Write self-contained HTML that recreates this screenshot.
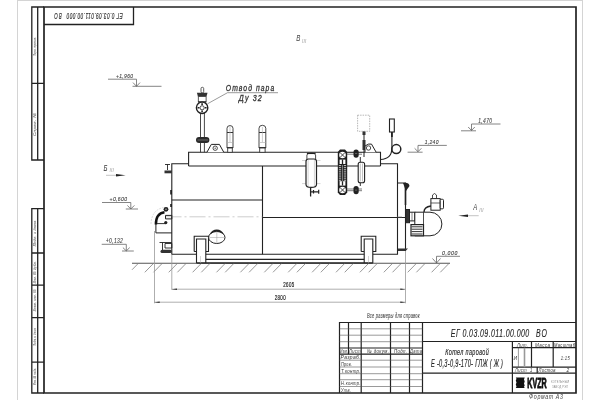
<!DOCTYPE html>
<html><head><meta charset="utf-8">
<style>
html,body{margin:0;padding:0;background:#fff;width:600px;height:400px;overflow:hidden}
svg{display:block;will-change:transform}
text{font-family:"Liberation Sans",sans-serif;font-style:italic}
</style></head><body>
<svg width="600" height="400" viewBox="0 0 600 400">
<rect width="600" height="400" fill="#fff"/>
<g stroke="#d4d4d4" stroke-width="1" fill="none">
<line x1="17.5" y1="0" x2="17.5" y2="400"/>
<line x1="582.5" y1="0" x2="582.5" y2="400"/>
<line x1="17.5" y1="0.5" x2="582.5" y2="0.5"/>
</g>
<g stroke="#222" stroke-width="1.3" fill="none">
<path d="M44 7 H576 V393 H44 Z" stroke-width="1.7"/>
<path d="M44 24.5 H133.5 V7"/>
<path d="M44 7 H31.8 V160 H44 M37.7 7 V160 M31.8 83.4 H44"/>
<path d="M44 208.6 H31.8 V393 H44 M37.7 208.6 V393 M31.8 253 H44 M31.8 285.2 H44 M31.8 317.6 H44 M31.8 362.2 H44"/>
</g>

<text transform="translate(122.80 12.50) rotate(180) scale(0.566 1)" font-size="8.4" fill="#333" textLength="99.16" lengthAdjust="spacing" stroke="#333" stroke-width="0.2">ЕГ 0.03.09.011.00.000</text>
<text transform="translate(61.70 12.50) rotate(180) scale(0.533 1)" font-size="8.4" fill="#333" textLength="14.06" lengthAdjust="spacing" stroke="#333" stroke-width="0.2">ВО</text>
<text transform="translate(36.00 56.00) rotate(-90) scale(0.585 1)" font-size="4.4" fill="#777" textLength="32.50" lengthAdjust="spacing" stroke="#888" stroke-width="0.12">Перв. примен.</text>
<text transform="translate(36.00 136.00) rotate(-90) scale(1.000 1)" font-size="4.4" fill="#777" textLength="23.00" lengthAdjust="spacing" stroke="#888" stroke-width="0.12">Справ. №</text>
<text transform="translate(36.00 246.30) rotate(-90) scale(0.840 1)" font-size="4.4" fill="#777" textLength="30.61" lengthAdjust="spacing" stroke="#888" stroke-width="0.12">Подп. и дата</text>
<text transform="translate(36.00 283.30) rotate(-90) scale(0.728 1)" font-size="4.4" fill="#777" textLength="30.07" lengthAdjust="spacing" stroke="#888" stroke-width="0.12">Инв. № дубл.</text>
<text transform="translate(36.00 311.30) rotate(-90) scale(0.724 1)" font-size="4.4" fill="#777" textLength="30.24" lengthAdjust="spacing" stroke="#888" stroke-width="0.12">Взам. инв. №</text>
<text transform="translate(36.00 346.00) rotate(-90) scale(0.588 1)" font-size="4.4" fill="#777" textLength="30.61" lengthAdjust="spacing" stroke="#888" stroke-width="0.12">Подп. и дата</text>
<text transform="translate(36.00 385.00) rotate(-90) scale(0.560 1)" font-size="4.4" fill="#777" textLength="30.34" lengthAdjust="spacing" stroke="#888" stroke-width="0.12">Инв. № подл.</text>
<g stroke="#666" stroke-width="0.8" fill="none">
<path d="M108 79.2 H136.5 V86.3 M133 82.6 L136.5 86.3 L140 82.6 M132.5 86.3 H161.5"/>
<path d="M102 202.5 H130.8 V209 M127.4 205.4 L130.8 209 L134.4 205.4 M125.8 209 H138"/>
<path d="M101.7 244.3 H126.3 V250.9 M122.9 247.6 L126.3 250.9 L129.7 247.6 M122 251 H133.8"/>
<path d="M446.8 145.4 H418 V151.7 M414.6 148.3 L418 151.7 L421.4 148.3 M407.6 152.2 H422.6"/>
<path d="M500.5 124 H471.5 V130.5 M468.2 127 L471.5 130.5 L474.8 127 M461 130.8 H476"/>
<path d="M460 256.3 H436.5 V263 M432.5 258.5 L436.5 263 L440.5 258.5"/>
</g>

<text transform="translate(116.00 78.00) scale(0.793 1)" font-size="6.25" fill="#444" textLength="21.43" lengthAdjust="spacing" stroke="#444" stroke-width="0.12">+1,960</text>
<text transform="translate(109.60 200.80) scale(0.891 1)" font-size="5.69444" fill="#444" textLength="19.53" lengthAdjust="spacing" stroke="#444" stroke-width="0.12">+0,600</text>
<text transform="translate(105.80 243.00) scale(0.780 1)" font-size="6.38889" fill="#444" textLength="21.91" lengthAdjust="spacing" stroke="#444" stroke-width="0.12">+0,132</text>
<text transform="translate(424.70 143.80) scale(0.845 1)" font-size="5.83333" fill="#444" textLength="16.22" lengthAdjust="spacing" stroke="#444" stroke-width="0.12">1,240</text>
<text transform="translate(478.20 123.00) scale(0.715 1)" font-size="6.94444" fill="#444" textLength="19.31" lengthAdjust="spacing" stroke="#444" stroke-width="0.12">1,470</text>
<text transform="translate(442.00 255.00) scale(1.000 1)" font-size="5.13889" fill="#444" textLength="15.30" lengthAdjust="spacing" stroke="#444" stroke-width="0.12">0,000</text>
<text transform="translate(103.60 170.90) scale(0.634 1)" font-size="9.6" fill="#333" textLength="6.94" lengthAdjust="spacing">Б</text>
<text transform="translate(109.50 171.80) scale(0.950 1)" font-size="5" fill="#999" textLength="4.63" lengthAdjust="spacing">III</text>
<path d="M106 175.3 H117" stroke="#aaa" stroke-width="0.7"/><path d="M125.6 175.3 L116 174 V176.6 Z" fill="#222"/>
<text transform="translate(296.20 40.80) scale(0.675 1)" font-size="9.2" fill="#444" textLength="6.82" lengthAdjust="spacing">В</text>
<text transform="translate(302.00 43.00) scale(0.907 1)" font-size="5" fill="#999" textLength="4.63" lengthAdjust="spacing">III</text>
<text transform="translate(473.30 209.70) scale(0.707 1)" font-size="8.4" fill="#333" textLength="6.23" lengthAdjust="spacing">А</text>
<text transform="translate(479.30 211.70) scale(0.907 1)" font-size="5" fill="#999" textLength="4.63" lengthAdjust="spacing">III</text>
<path d="M468 215.7 H478.7" stroke="#aaa" stroke-width="0.7"/><path d="M458.3 215.7 L468 214.4 V217 Z" fill="#222"/>
<path d="M132 263.3 H450" stroke="#555" stroke-width="1.1"/><path d="M196.5 262.9 H372.8" stroke="#2a2a2a" stroke-width="1.5"/>
<path stroke="#777" stroke-width="0.75" d="M138.1 263.6 L132.0 269.8 M153.3 263.6 L144.8 272.3 M162.0 263.6 L153.5 272.3 M177.2 263.6 L168.7 272.3 M185.9 263.6 L177.4 272.3 M201.1 263.6 L192.6 272.3 M209.8 263.6 L201.3 272.3 M225.0 263.6 L216.5 272.3 M233.7 263.6 L225.2 272.3 M248.9 263.6 L240.4 272.3 M257.6 263.6 L249.1 272.3 M272.8 263.6 L264.3 272.3 M281.5 263.6 L273.0 272.3 M296.7 263.6 L288.2 272.3 M305.4 263.6 L296.9 272.3 M320.6 263.6 L312.1 272.3 M329.3 263.6 L320.8 272.3 M344.5 263.6 L336.0 272.3 M353.2 263.6 L344.7 272.3 M368.4 263.6 L359.9 272.3 M377.1 263.6 L368.6 272.3 M392.3 263.6 L383.8 272.3 M401.0 263.6 L392.5 272.3 M416.2 263.6 L407.7 272.3 M424.9 263.6 L416.4 272.3 M440.1 263.6 L431.6 272.3 M448.8 263.6 L440.3 272.3"/>
<g stroke="#999" stroke-width="0.8" fill="none">
<path d="M154.5 231 V303.3 M171.8 254 V289.8 M405.5 251 V303.3"/>
<path d="M171.8 289.2 H405.5 M154.5 302.2 H405.5"/>
</g>
<path fill="#333" d="M171.8 289.2 l5.2 -0.8 v1.6z M405.5 289.2 l-5.2 -0.8 v1.6z M154.5 302.2 l5.2 -0.8 v1.6z M405.5 302.2 l-5.2 -0.8 v1.6z"/>

<text transform="translate(283.30 287.00) scale(0.604 1)" font-size="7.3" fill="#222" textLength="18.04" lengthAdjust="spacing" style="font-style:normal" stroke="#222" stroke-width="0.2">2605</text>
<text transform="translate(274.70 300.20) scale(0.604 1)" font-size="7.3" fill="#222" textLength="18.04" lengthAdjust="spacing" style="font-style:normal" stroke="#222" stroke-width="0.2">2800</text>
<text transform="translate(367.00 318.30) scale(0.608 1)" font-size="6.5" fill="#444" textLength="86.50" lengthAdjust="spacing" stroke="#444" stroke-width="0.1">Все размеры для справок</text>
<!-- ===== boiler body ===== -->
<g stroke="#222" stroke-width="1.1" fill="none">
<path d="M171.8 254.3 V163.8 H188.6 M188.6 166 H380.5 M380.5 163.8 H397.5 V254.3 H372.8 M364.2 254.3 H205.8 M196.5 254.3 H171.8"/>
<path d="M188.6 166 V152.2 H380.5 V166"/>
<path d="M262.5 166 V254.3 M171.8 200 H262.5 M262.5 217.5 H406"/>
<path d="M397.5 183 H405.5 V251"/>
<!-- supports -->
<path d="M194.2 251.5 V236.2 H208.5 V251.5 H205.8 M196.5 251.5 H194.2 M196.5 263 V239 H205.8 V263"/>
<path d="M361.2 251.5 V236.2 H375.8 V251.5 H372.8 M364.2 251.5 H361.2 M364.2 263 V239 H372.8 V263"/>
<path d="M205.8 259.4 H364.2"/>
</g>
<path d="M200.5 256 V263 M368.5 256 V263" stroke="#aaa" stroke-width="0.5"/>
<path d="M405.5 183 V205" stroke="#222" stroke-width="1.6"/>
<path d="M403 183 Q409 182 409.5 186 L406 191 Z" fill="#222"/>
<path d="M398 248.5 H408 L405.5 251 H398 Z" fill="#333"/>
<path d="M165.5 216.8 H262.5" stroke="#aaa" stroke-width="0.6" stroke-dasharray="16 3 2 3"/>
<path d="M397.5 216.8 H402" stroke="#999" stroke-width="0.6"/>

<!-- manhole -->
<ellipse cx="216.8" cy="237.5" rx="8.2" ry="6" fill="#fff" stroke="#222" stroke-width="1"/>
<path d="M209.5 234.5 Q212 229.5 216.8 229.5 Q221.6 229.5 224 234.5 Q220 231.5 216.8 231.5 Q213.6 231.5 209.5 234.5 Z" fill="#222"/>
<path d="M209 237.5 H225 M216.8 231.5 V243.5" stroke="#999" stroke-width="0.5"/>

<!-- left door & fittings -->
<path d="M151 224 Q151.5 210 163.5 207.5" stroke="#bbb" stroke-width="0.5" fill="none" stroke-dasharray="2 1"/>
<g stroke="#222" stroke-width="1" fill="none">
<path d="M155.9 224 V232.9 H171.8"/>
<path d="M165.5 215.4 H171.8 V218.9 H165.5 Z"/>
</g>
<path d="M155.9 224.5 Q155.9 213.2 164.5 212.2" stroke="#111" stroke-width="2.5" fill="none"/>
<path d="M157 223.6 H166" stroke="#333" stroke-width="1"/>
<circle cx="165.8" cy="222.6" r="1.6" fill="#222"/>
<circle cx="166" cy="209.3" r="2.4" fill="#222"/>
<circle cx="166" cy="209.3" r="0.8" fill="#aaa"/>
<g stroke="#222" stroke-width="0.9" fill="none">
<path d="M165 164.5 H170 M167.5 164.5 V170"/>
</g>
<path d="M164.5 170.5 H171.8 V173.3 H164.5 Z" fill="#333"/>
<path d="M171 190 V194.5 M171 204 V207" stroke="#111" stroke-width="1.5"/>
<g stroke="#222" stroke-width="0.9" fill="none">
<path d="M159.5 242.5 H171.8 M162.5 242.5 V252 M165 243.5 H171.8 V248 H165 Z"/>
</g>
<rect x="160.5" y="249.8" width="11.3" height="3.3" rx="1.6" fill="#333"/>

<!-- steam outlet -->
<rect x="201" y="87.3" width="2.7" height="5.6" rx="1.3" fill="#fff" stroke="#333" stroke-width="0.8"/>
<path d="M196.9 92.8 H207.5 L206.5 96.6 H197.9 Z" fill="#333"/>
<rect x="198.3" y="96.6" width="7.8" height="5.4" fill="#fff" stroke="#333" stroke-width="0.8"/>
<path d="M198.3 102 H206.1" stroke="#222" stroke-width="1.3"/>
<path d="M200.5 113 V152.3 M204.4 113 V152.3" stroke="#333" stroke-width="0.9"/>
<circle cx="202.1" cy="107.8" r="5.7" fill="#fff" stroke="#222" stroke-width="1.4"/>
<circle cx="202.1" cy="107.8" r="2.1" fill="none" stroke="#333" stroke-width="0.9"/>
<path d="M197.6 107.8 H199.4 M204.8 107.8 H206.6 M202.1 103.3 V105 M202.1 110.6 V112.3" stroke="#222" stroke-width="1.6"/>
<rect x="196" y="136.9" width="13.4" height="6.2" rx="3" fill="#2a2a2a"/>
<path d="M197.5 140 H208" stroke="#999" stroke-width="0.6"/>
<path d="M206.9 152.3 L211.3 144.4 H219.4 L223.8 152.3" stroke="#222" stroke-width="1" fill="#fff"/>
<circle cx="215.2" cy="148.2" r="2.2" stroke="#222" stroke-width="0.8" fill="none"/>
<circle cx="215.2" cy="148.2" r="0.7" fill="#555"/>
<!-- safety valves -->
<g fill="#fff" stroke="#333" stroke-width="0.9">
<path d="M227 148 V128.3 Q227 125.6 230 125.6 Q233 125.6 233 128.3 V148 Z"/>
<rect x="227.7" y="148" width="4.6" height="4.3"/>
<path d="M259 148 V128.3 Q259 125.3 262.4 125.3 Q265.8 125.3 265.8 128.3 V148 Z"/>
<rect x="259.7" y="148" width="5.4" height="4.3"/>
</g>
<path d="M227 132.5 H233 M259 132.5 H265.8 M227 147.5 H233 M259 147.5 H265.8" stroke="#333" stroke-width="1"/>
<path d="M227 142.5 H233 M259 142.5 H265.8 M230 127 V142 M262.4 127 V142" stroke="#aaa" stroke-width="0.6"/>

<!-- leader text -->
<path d="M207.5 103.8 L227.5 92.7 H278" stroke="#555" stroke-width="0.6" fill="none"/>

<!-- separator capsule -->
<path d="M302 160.5 H320.5 M302 183.6 H320.5" stroke="#aaa" stroke-width="0.5"/>
<path d="M306.9 159 V155 Q306.9 153.2 311.2 153.2 Q315.6 153.2 315.6 155 V159" fill="#fff" stroke="#333" stroke-width="0.9"/>
<path d="M306.9 153.4 H315.6" stroke="#222" stroke-width="1.3"/>
<path d="M306 161.5 Q306 159 308.5 159 H314 Q316.5 159 316.5 161.5 V184.5 Q316.5 187.4 311.2 187.4 Q306 187.4 306 184.5 Z" fill="#fff" stroke="#222" stroke-width="1.2"/>
<path d="M308.1 160 V186 M314.4 160 V186" stroke="#aaa" stroke-width="0.5"/>
<path d="M310.6 188 V196.5" stroke="#222" stroke-width="1.3"/>
<path d="M311 191.8 H319 M318.7 189.8 V193.8 M313.5 190 V193.5" stroke="#222" stroke-width="1.2"/>

<!-- water level gauge -->
<path d="M340 149.6 H345 L347.2 152 V192.6 L345 195 H340 L337.8 192.6 V152 Z" fill="#1e1e1e"/>
<circle cx="342.5" cy="155" r="3.3" fill="#fff"/>
<path d="M340 152.5 L345 157.5 M345 152.5 L340 157.5" stroke="#333" stroke-width="0.9"/>
<rect x="339.6" y="159.6" width="5.8" height="4.4" fill="#fff"/>
<rect x="339.6" y="181.2" width="5.8" height="4.4" fill="#fff"/>
<path d="M342.5 159.6 V164 M342.5 181.2 V185.6" stroke="#222" stroke-width="1.3"/>
<circle cx="342.5" cy="190" r="3.3" fill="#fff"/>
<path d="M340 187.5 L345 192.5 M345 187.5 L340 192.5" stroke="#333" stroke-width="0.9"/>
<path d="M338.9 165.5 H341.2 M343.8 165.5 H346.1 M338.9 167.4 H341.2 M343.8 167.4 H346.1 M338.9 169.3 H341.2 M343.8 169.3 H346.1 M338.9 171.2 H341.2 M343.8 171.2 H346.1 M338.9 173.1 H341.2 M343.8 173.1 H346.1 M338.9 175.0 H341.2 M343.8 175.0 H346.1 M338.9 176.9 H341.2 M343.8 176.9 H346.1 M338.9 178.8 H341.2 M343.8 178.8 H346.1 M338.9 180.7 H341.2 M343.8 180.7 H346.1" stroke="#ddd" stroke-width="0.8"/>
<path d="M342.5 165 V181" stroke="#bbb" stroke-width="0.6"/>
<path d="M347 152.5 H362 M347 154.2 H362 M347 189 H362 M347 190.7 H362" stroke="#444" stroke-width="0.7"/>
<rect x="353.5" y="149.5" width="5.2" height="8.2" rx="2.6" fill="#222"/>
<rect x="353.5" y="186" width="5.2" height="8.2" rx="2.6" fill="#222"/>
<path d="M355 153.5 H357.2 M355 190.1 H357.2" stroke="#888" stroke-width="0.6"/>
<path d="M360.3 157 V186" stroke="#333" stroke-width="1"/>
<rect x="358.2" y="162.2" width="6.4" height="20.6" rx="2" fill="#fff" stroke="#222" stroke-width="1.1"/>
<path d="M360.3 163.5 V181.5 M362.5 163.5 V181.5" stroke="#999" stroke-width="0.6"/>
<path d="M364 131.3 V157" stroke="#222" stroke-width="1"/>
<path d="M362.5 131.5 H365.5 V135 H362.5 Z M362.5 140 H365.5 V150 H362.5 Z" fill="#333"/>

<!-- sensor dashed box -->
<rect x="357.6" y="115.2" width="12.1" height="16.1" fill="none" stroke="#888" stroke-width="0.6" stroke-dasharray="1.5 1"/>
<path d="M365 152.3 V146 L368.5 144.1 H371.5 L376.2 152.3" stroke="#222" stroke-width="1" fill="#fff"/>
<circle cx="368.5" cy="148" r="2.2" stroke="#222" stroke-width="0.8" fill="none"/>
<!-- pressure gauge -->
<rect x="389.5" y="119" width="4.8" height="13" fill="#fff" stroke="#222" stroke-width="1.1"/>
<path d="M391.9 132 V148 Q391.9 159 380.5 159.5" fill="none" stroke="#222" stroke-width="1.1"/>
<path d="M391 132 H392.8 V137 H391 Z" fill="#222"/>
<circle cx="396.3" cy="149.1" r="4.5" fill="none" stroke="#222" stroke-width="1.5"/>

<!-- burner -->
<g stroke="#222" stroke-width="1" fill="#fff">
<rect x="405.7" y="209.5" width="3.8" height="13.2" fill="#333"/>
<rect x="409.5" y="212.2" width="5.3" height="8.7"/>
<path d="M414.8 212.2 H430 A11.9 11.8 0 0 1 430 235.8 H414.8 Z"/>
<path d="M423.5 212.2 V235.8" stroke-width="0.8"/>
<rect x="411" y="224.6" width="12.5" height="11.2" stroke-width="1.2"/>
<path d="M411.5 226.8 H422.5 M411.5 229.2 H422.5 M411.5 231.6 H422.5 M411.5 234 H422.5" stroke-width="1" stroke="#333"/>
<rect x="430.9" y="198.6" width="9.3" height="11.6"/><path d="M430.9 203 H440.2" stroke-width="0.7"/>
<rect x="440.2" y="199.3" width="3.3" height="9.5" rx="1"/>
<path d="M432.5 198.1 V195 L434.5 193.5 L436.5 195 V198.1" stroke-width="0.8"/>
<path d="M424 212 Q424 207 430.9 206" stroke-width="1.4" fill="none"/>
</g>
<path d="M412 212.2 V220.9" stroke="#333" stroke-width="0.6"/>


<text transform="translate(225.80 91.20) scale(0.788 1)" font-size="8.6" fill="#333" textLength="61.45" lengthAdjust="spacing" stroke="#333" stroke-width="0.3">Отвод пара</text>
<text transform="translate(238.70 100.80) scale(0.825 1)" font-size="8.6" fill="#333" textLength="28.01" lengthAdjust="spacing" stroke="#333" stroke-width="0.3">Ду 32</text>
<g stroke="#222" stroke-width="1.2" fill="none">
<path d="M339.5 393 V322.5 H576"/>
<path d="M422.5 322.5 V393 M348.5 322.5 V354.2 M361.2 322.5 V393 M390.5 322.5 V393 M409.5 322.5 V393"/>
<path d="M339.5 348 H422.5 M339.5 354.2 H422.5"/>
<path d="M422.5 341.5 H576 M512.4 341.5 V393 M512.4 347.7 H576 M531.5 341.5 V367.2 M553.2 341.5 V367.2 M422.5 373.2 H576 M512.4 367.2 H576 M537.2 367.2 V373.2"/>
</g>
<g stroke="#555" stroke-width="0.6" fill="none">
<path d="M339.5 328.8 H422.5 M339.5 335.2 H422.5 M339.5 341.7 H422.5"/>
<path d="M339.5 360.2 H422.5 M339.5 367 H422.5 M339.5 373.7 H422.5 M339.5 379.7 H422.5 M339.5 386.5 H422.5"/>
<path d="M518.4 347.7 V367.2"/><path d="M524.5 347.7 V367.2" stroke="#999" stroke-width="1.6"/>
</g>

<text transform="translate(340.00 353.20) scale(0.625 1)" font-size="5.4" fill="#333" textLength="12.79" lengthAdjust="spacing">Изм.</text>
<text transform="translate(349.00 353.20) scale(0.744 1)" font-size="5.4" fill="#333" textLength="15.45" lengthAdjust="spacing">Лист</text>
<text transform="translate(367.00 353.20) scale(0.832 1)" font-size="5.4" fill="#333" textLength="26.43" lengthAdjust="spacing">№ докум.</text>
<text transform="translate(394.00 353.20) scale(0.814 1)" font-size="5.4" fill="#333" textLength="15.97" lengthAdjust="spacing">Подп.</text>
<text transform="translate(410.00 353.20) scale(0.758 1)" font-size="5.4" fill="#333" textLength="15.83" lengthAdjust="spacing">Дата</text>
<text transform="translate(340.50 359.40) scale(0.921 1)" font-size="5.4" fill="#333" textLength="21.71" lengthAdjust="spacing">Разраб.</text>
<text transform="translate(341.00 366.00) scale(0.695 1)" font-size="5.4" fill="#333" textLength="15.82" lengthAdjust="spacing">Пров.</text>
<text transform="translate(341.00 372.70) scale(0.806 1)" font-size="5.4" fill="#333" textLength="24.21" lengthAdjust="spacing">Т.контр.</text>
<text transform="translate(341.00 385.40) scale(0.768 1)" font-size="5.4" fill="#333" textLength="25.41" lengthAdjust="spacing">Н.контр.</text>
<text transform="translate(341.00 392.00) scale(0.734 1)" font-size="5.4" fill="#333" textLength="13.63" lengthAdjust="spacing">Утв.</text>
<text transform="translate(450.80 336.70) scale(0.596 1)" font-size="11.8" fill="#222" textLength="131.56" lengthAdjust="spacing" stroke="#222" stroke-width="0.12">ЕГ 0.03.09.011.00.000</text>
<text transform="translate(536.00 336.70) scale(0.590 1)" font-size="11.8" fill="#222" textLength="18.66" lengthAdjust="spacing" stroke="#222" stroke-width="0.12">ВО</text>
<text transform="translate(445.20 354.90) scale(0.620 1)" font-size="8.8" fill="#222" textLength="70.15" lengthAdjust="spacing" stroke="#222" stroke-width="0.15">Котел паровой</text>
<text transform="translate(431.00 366.60) scale(0.535 1)" font-size="10.5" fill="#222" textLength="134.56" lengthAdjust="spacing" stroke="#222" stroke-width="0.15">Е -0,3-0,9-170- ГЛЖ ( Ж )</text>
<text transform="translate(517.00 346.60) scale(0.783 1)" font-size="5.4" fill="#333" textLength="14.05" lengthAdjust="spacing">Лит.</text>
<text transform="translate(535.00 346.60) scale(0.846 1)" font-size="5.4" fill="#333" textLength="17.74" lengthAdjust="spacing">Масса</text>
<text transform="translate(554.00 346.60) scale(0.749 1)" font-size="5.4" fill="#333" textLength="28.03" lengthAdjust="spacing">Масштаб</text>
<text transform="translate(513.50 360.00) scale(0.932 1)" font-size="5.4" fill="#333" textLength="4.29" lengthAdjust="spacing">И</text>
<text transform="translate(560.70 360.00) scale(0.771 1)" font-size="5.4" fill="#333" textLength="11.68" lengthAdjust="spacing">1:15</text>
<text transform="translate(515.00 372.30) scale(0.744 1)" font-size="5.4" fill="#333" textLength="15.45" lengthAdjust="spacing">Лист</text>
<text transform="translate(530.00 372.30) scale(0.749 1)" font-size="5.4" fill="#333" textLength="3.34" lengthAdjust="spacing">1</text>
<text transform="translate(538.50 372.30) scale(0.778 1)" font-size="5.4" fill="#333" textLength="21.85" lengthAdjust="spacing">Листов</text>
<text transform="translate(566.50 372.30) scale(0.899 1)" font-size="5.4" fill="#333" textLength="3.34" lengthAdjust="spacing">2</text>
<path d="M515.8 377.6 H524.7 L524 379.5 L524.7 381.5 L524 383.5 L524.7 385.5 L524 386.8 L524.7 387.9 H515.8 L516.5 386.5 L515.8 384.5 L516.5 382.5 L515.8 380.5 L516.5 378.8 Z" fill="#111"/>
<text transform="translate(527.30 387.80) scale(0.513 1)" font-size="13.9" fill="#111" textLength="37.84" lengthAdjust="spacing" style="font-style:normal" font-weight="bold" stroke="#111" stroke-width="0.9">KVZR</text>
<text transform="translate(551.00 382.50) scale(0.616 1)" font-size="4.2" fill="#888" textLength="29.24" lengthAdjust="spacing" style="font-style:normal">КОТЕЛЬНЫЙ</text>
<text transform="translate(552.00 388.00) scale(0.599 1)" font-size="4.2" fill="#888" textLength="26.69" lengthAdjust="spacing" style="font-style:normal">ЗАВОД РЭП</text>
<text transform="translate(529.00 398.80) scale(0.819 1)" font-size="6.5" fill="#444" textLength="41.52" lengthAdjust="spacing">Формат  А3</text>
</svg>
</body></html>
